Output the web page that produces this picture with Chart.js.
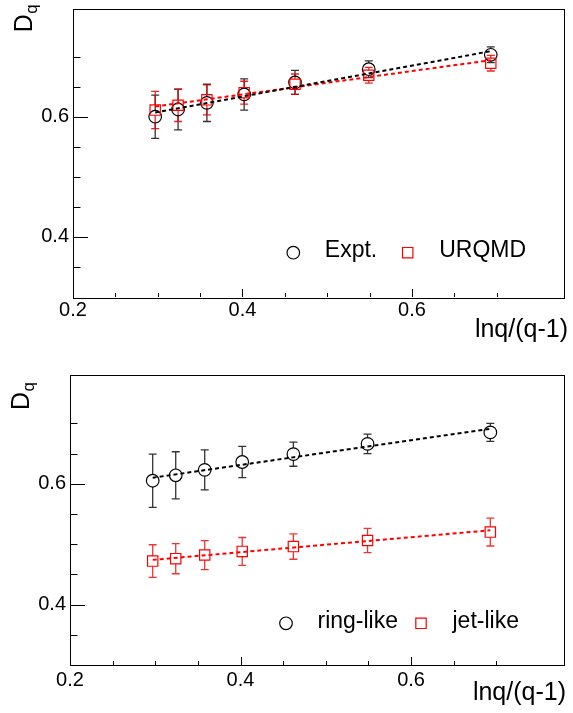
<!DOCTYPE html>
<html>
<head>
<meta charset="utf-8">
<script src="https://cdn.jsdelivr.net/npm/chart.js@4.4.1/dist/chart.umd.min.js"></script>
<style>
  body { margin: 0; background: #fff; }
  canvas { display: block; }
</style>
</head>
<body>
<canvas id="upper" width="573" height="356"></canvas>
<canvas id="lower" width="573" height="357"></canvas>
<script>
// x: ln q / (q-1), q = 8 ... 2
var xLnq = [0.297, 0.324, 0.358, 0.402, 0.462, 0.549, 0.693];

// upper panel: experiment vs URQMD
var exptD = [0.600, 0.612, 0.623, 0.637, 0.657, 0.679, 0.703];
var exptErr = [0.036, 0.034, 0.031, 0.026, 0.020, 0.014, 0.013];
var urqmdD = [0.611, 0.619, 0.628, 0.640, 0.654, 0.669, 0.689];
var urqmdErr = [0.031, 0.027, 0.025, 0.019, 0.017, 0.013, 0.013];
var exptFit = [0.607, 0.709];
var urqmdFit = [0.617, 0.694];

// lower panel: ring-like vs jet-like
var ringD = [0.605, 0.614, 0.623, 0.636, 0.649, 0.666, 0.685];
var ringErr = [0.044, 0.039, 0.033, 0.026, 0.020, 0.016, 0.015];
var jetD = [0.472, 0.476, 0.482, 0.488, 0.496, 0.506, 0.520];
var jetErr = [0.027, 0.025, 0.024, 0.023, 0.021, 0.020, 0.023];
var ringFit = [0.610, 0.691];
var jetFit = [0.474, 0.523];

var xTicks = [0.2, 0.4, 0.6];
var yTicks = [0.4, 0.6];
var xTitle = 'lnq/(q-1)';

var FONT = '"Liberation Sans", Arial, sans-serif';
Chart.defaults.font.family = FONT;
Chart.defaults.color = '#000';

function isMult(v, step) {
  var r = v / step;
  return Math.abs(r - Math.round(r)) < 1e-6;
}

var panelPlugin = {
  id: 'panel',
  beforeDatasetsDraw: function (chart, args, o) {
    var ctx = chart.ctx, xs = chart.scales.x, ys = chart.scales.y;
    o.errors.forEach(function (e) {
      ctx.save();
      ctx.strokeStyle = e.color;
      ctx.lineWidth = 1.3;
      e.values.forEach(function (v, i) {
        var px = xs.getPixelForValue(xLnq[i]);
        var py = ys.getPixelForValue(v);
        var top = ys.getPixelForValue(v + e.err[i]);
        var bot = ys.getPixelForValue(v - e.err[i]);
        ctx.beginPath();
        ctx.moveTo(px, py - e.gap); ctx.lineTo(px, top);
        ctx.moveTo(px, py + e.gap); ctx.lineTo(px, bot);
        ctx.moveTo(px - 4, top); ctx.lineTo(px + 4, top);
        ctx.moveTo(px - 4, bot); ctx.lineTo(px + 4, bot);
        ctx.stroke();
      });
      ctx.restore();
    });
  },
  afterDraw: function (chart, args, o) {
    var ctx = chart.ctx, a = chart.chartArea, xs = chart.scales.x, ys = chart.scales.y;
    ctx.save();
    // frame
    ctx.strokeStyle = '#000';
    ctx.lineWidth = 1;
    ctx.strokeRect(Math.round(a.left) + 0.5, Math.round(a.top) + 0.5,
      Math.round(a.right - a.left) - 1, Math.round(a.bottom - a.top));
    // inward ticks
    ctx.beginPath();
    xs.ticks.forEach(function (t) {
      if (!isMult(t.value, 0.05) || t.value <= xs.min || t.value >= xs.max) return;
      var p = Math.round(xs.getPixelForValue(t.value)) + 0.5;
      var len = isMult(t.value, 0.2) ? 8 : 4;
      ctx.moveTo(p, a.bottom); ctx.lineTo(p, a.bottom - len);
    });
    ys.ticks.forEach(function (t) {
      if (!isMult(t.value, 0.05) || t.value <= ys.min || t.value >= ys.max) return;
      var p = Math.round(ys.getPixelForValue(t.value)) + 0.5;
      var len = isMult(t.value, 0.2) ? 15 : 7.5;
      ctx.moveTo(a.left, p); ctx.lineTo(a.left + len, p);
    });
    ctx.stroke();

    // x title, right aligned
    ctx.fillStyle = '#000';
    ctx.font = '25px ' + FONT;
    ctx.textAlign = 'right';
    ctx.textBaseline = 'alphabetic';
    ctx.fillText(xTitle, o.xTitle.right, o.xTitle.base);

    // y title D_q, rotated
    ctx.save();
    ctx.translate(o.yTitle.base, o.yTitle.start);
    ctx.rotate(-Math.PI / 2);
    ctx.textAlign = 'left';
    ctx.font = '25px ' + FONT;
    ctx.fillText('D', 0, 0);
    var dw = ctx.measureText('D').width;
    ctx.font = '17px ' + FONT;
    ctx.fillText('q', dw + 0.5, 5);
    ctx.restore();

    // legend
    ctx.font = '23px ' + FONT;
    ctx.textAlign = 'left';
    chart.data.datasets.slice(0, 2).forEach(function (ds, i) {
      var mx = o.legend.x[i], my = o.legend.y;
      ctx.strokeStyle = ds.borderColor;
      ctx.lineWidth = 1.2;
      ctx.beginPath();
      if (ds.pointStyle === 'circle') {
        ctx.arc(mx, my, 6.3, 0, Math.PI * 2);
      } else {
        ctx.rect(mx - 5.2, my - 5.2, 10.4, 10.4);
      }
      ctx.stroke();
      ctx.fillStyle = '#000';
      ctx.fillText(ds.label, mx + 31.5, my + 4.6);
    });
    ctx.restore();
  }
};

function pts(ys) {
  return xLnq.map(function (x, i) { return { x: x, y: ys[i] }; });
}
function fitLine(ends) {
  return [{ x: xLnq[0], y: ends[0] }, { x: xLnq[xLnq.length - 1], y: ends[1] }];
}

function makePanel(id, cfg) {
  var canvas = document.getElementById(id);
  var H = canvas.height;
  new Chart(canvas.getContext('2d'), {
    type: 'scatter',
    data: {
      datasets: [
        { label: cfg.labels[0], data: pts(cfg.a), pointStyle: 'circle', pointRadius: 6.3,
          borderColor: '#000', backgroundColor: 'rgba(0,0,0,0)', pointBorderWidth: 1.2, showLine: false, order: 2 },
        { label: cfg.labels[1], data: pts(cfg.b), pointStyle: 'rect', pointRadius: 7.3,
          borderColor: '#ff0000', backgroundColor: 'rgba(0,0,0,0)', pointBorderWidth: 1.2, showLine: false, order: 1 },
        { data: fitLine(cfg.fitA), showLine: true, borderColor: '#000', borderWidth: 2,
          borderDash: [4, 3], pointRadius: 0, order: 0 },
        { data: fitLine(cfg.fitB), showLine: true, borderColor: '#ff0000', borderWidth: 2,
          borderDash: [4, 3], pointRadius: 0, order: 0 }
      ]
    },
    options: {
      responsive: false,
      animation: false,
      events: [],
      layout: { padding: { left: 0, top: cfg.area.top, right: 573 - cfg.area.right, bottom: 0 } },
      plugins: {
        legend: { display: false },
        tooltip: { enabled: false },
        panel: cfg.panel
      },
      scales: {
        x: {
          type: 'linear', min: 0.2, max: 0.78,
          afterFit: function (s) {
            s.height = H - cfg.area.bottom;
            s.paddingLeft = 0; s.paddingRight = 0;
          },
          grid: { display: false, drawTicks: false },
          border: { display: false },
          ticks: {
            stepSize: 0.05, autoSkip: false, maxRotation: 0, padding: cfg.xPad,
            font: { size: 20 },
            callback: function (v) { return xTicks.some(function (t) { return Math.abs(t - v) < 1e-6; }) ? v.toFixed(1) : ''; }
          }
        },
        y: {
          type: 'linear', min: 0.3, max: 0.78,
          afterFit: function (s) {
            s.width = cfg.area.left;
            s.paddingTop = 0; s.paddingBottom = 0;
          },
          grid: { display: false, drawTicks: false },
          border: { display: false },
          ticks: {
            stepSize: 0.05, autoSkip: false, padding: 4,
            font: { size: 20 },
            callback: function (v) { return yTicks.some(function (t) { return Math.abs(t - v) < 1e-6; }) ? v.toFixed(1) : ''; }
          }
        }
      }
    },
    plugins: [panelPlugin]
  });
}

makePanel('upper', {
  labels: ['Expt.', 'URQMD'],
  a: exptD, b: urqmdD, fitA: exptFit, fitB: urqmdFit,
  area: { left: 73, right: 570, top: 6, bottom: 297 },
  xPad: 1,
  panel: {
    errors: [
      { values: exptD, err: exptErr, color: '#333', gap: 6.3 },
      { values: urqmdD, err: urqmdErr, color: 'rgba(230,0,0,0.85)', gap: 5.2 }
    ],
    xTitle: { right: 568, base: 336.5 },
    yTitle: { base: 32.3, start: 32.3 },
    legend: { x: [293.3, 407.7], y: 252.7 }
  }
});

makePanel('lower', {
  labels: ['ring-like', 'jet-like'],
  a: ringD, b: jetD, fitA: ringFit, fitB: jetFit,
  area: { left: 70, right: 567, top: 19, bottom: 309 },
  xPad: 3,
  panel: {
    errors: [
      { values: ringD, err: ringErr, color: '#333', gap: 6.3 },
      { values: jetD, err: jetErr, color: 'rgba(240,0,0,0.8)', gap: 5.2 }
    ],
    xTitle: { right: 566, base: 344 },
    yTitle: { base: 29.3, start: 54 },
    legend: { x: [286, 421], y: 267.3 }
  }
});
</script>
</body>
</html>
